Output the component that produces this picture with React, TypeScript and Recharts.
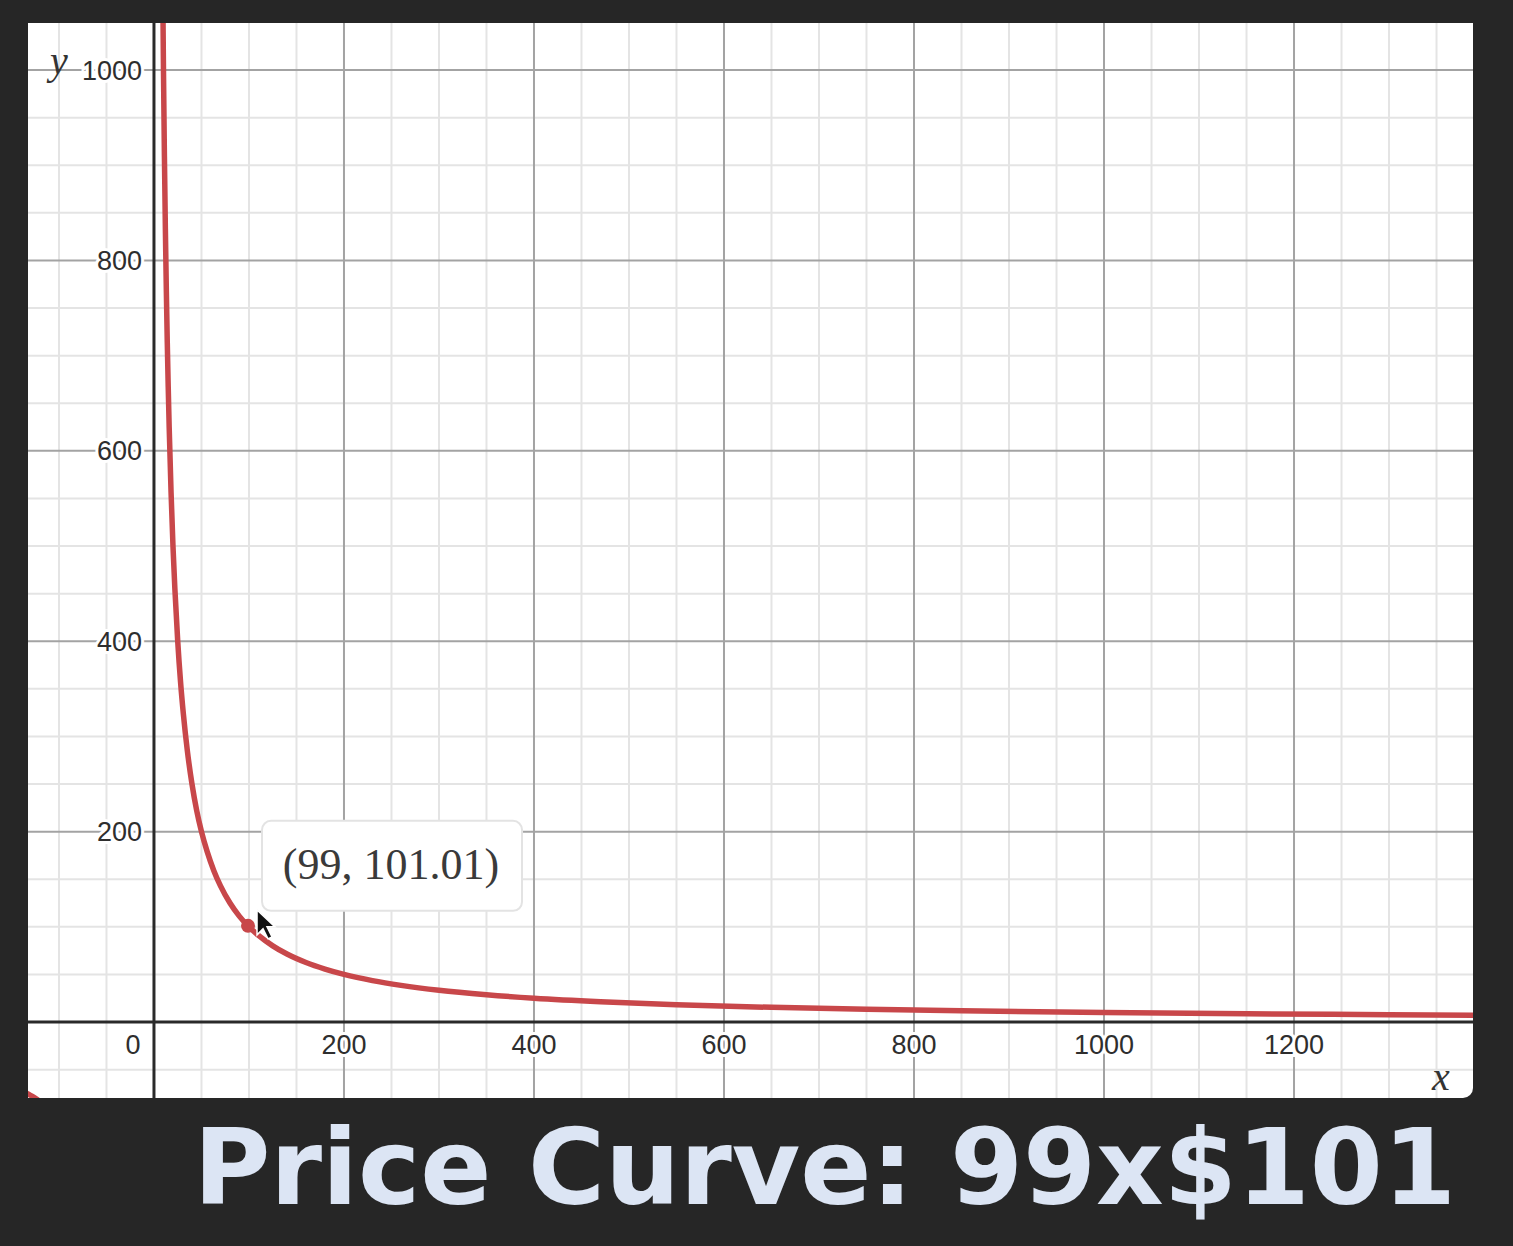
import { LineChart, Line, XAxis, YAxis, ReferenceLine, ReferenceDot } from "recharts";

// curve (positive branch)
const curveX = [9, 10, 11, 12, 13, 14, 15, 16, 18, 20, 22, 25, 28, 31, 35, 40, 45, 50, 56, 63, 70, 80, 90, 99, 110, 125, 140, 160, 180, 200, 230, 260, 300, 350, 400, 470, 550, 650, 750, 850, 1000, 1150, 1300, 1400];
const curveY = [1111, 1000, 909, 833, 769, 714, 667, 625, 556, 500, 455, 400, 357, 323, 286, 250, 222, 200, 179, 159, 143, 125, 111, 101.01, 91, 80, 71.4, 62.5, 55.6, 50, 43.5, 38.5, 33.3, 28.6, 25, 21.3, 18.2, 15.4, 13.3, 11.8, 10, 8.7, 7.7, 7.1];

// the bit of the negative branch showing in the bottom-left corner
const negX = [-140, -132.6, -128, -122];
const negY = [-71.4, -75.4, -78.1, -82];

const xLabels = [200, 400, 600, 800, 1000, 1200];
const yLabels = [200, 400, 600, 800, 1000];
const xMinor = [-100, -50, 50, 100, 150, 250, 300, 350, 450, 500, 550, 650, 700, 750, 850, 900, 950, 1050, 1100, 1150, 1250, 1300, 1350];
const yMinor = [-50, 50, 100, 150, 250, 300, 350, 450, 500, 550, 650, 700, 750, 850, 900, 950];

const hoverPoint = { x: 99, y: 101.01, label: "(99, 101.01)" };

const mainData = curveX.map((x, i) => ({ x, y: curveY[i] }));
const negData = negX.map((x, i) => ({ x, y: negY[i] }));

const RED = "#c8474a";
const TICK = "#2e2e2e";

const XTickLabel = ({ viewBox, value, shift = 0 }: any) => (
  <text
    x={viewBox.x + shift}
    y={viewBox.y + 32}
    textAnchor="middle"
    fontFamily="Liberation Sans, Arial, sans-serif"
    fontSize={27}
    fill={TICK}
    stroke="#fff"
    strokeWidth={6}
    style={{ paintOrder: "stroke" }}
  >
    {value}
  </text>
);

const YTickLabel = ({ viewBox, value }: any) => (
  <text
    x={viewBox.x - 12}
    y={viewBox.y + 9.5}
    textAnchor="end"
    fontFamily="Liberation Sans, Arial, sans-serif"
    fontSize={27}
    fill={TICK}
    stroke="#fff"
    strokeWidth={6}
    style={{ paintOrder: "stroke" }}
  >
    {value}
  </text>
);

const HoverBox = ({ viewBox }: any) => {
  const cx = viewBox.x + viewBox.width / 2;
  const cy = viewBox.y + viewBox.height / 2;
  const bx = cx + 14;
  const by = cy - 105;
  const tx = cx + 9;
  const ty = cy - 16;
  return (
    <g>
      <rect x={bx} y={by} width={260} height={90} rx={9} fill="#fff" stroke="#e3e3e3" strokeWidth={2} />
      <text
        x={bx + 129}
        y={by + 58}
        textAnchor="middle"
        fontFamily="Liberation Serif, Times New Roman, serif"
        fontSize={44}
        fill="#3a3a3a"
      >
        {hoverPoint.label}
      </text>
      <path
        d={`M${tx},${ty} l0,25 l6,-6 l5,10 l4,-2 l-5,-10 l8,0 z`}
        fill="#111"
        stroke="#fff"
        strokeWidth={1.5}
      />
    </g>
  );
};

export default function App() {
  return (
    <div style={{ position: "absolute", left: 0, top: 0, width: 1513, height: 1246, background: "#262626" }}>
      <div
        style={{
          position: "absolute",
          left: 28,
          top: 23,
          width: 1445,
          height: 1075,
          background: "#fff",
          borderBottomRightRadius: 10,
          overflow: "hidden",
        }}
      >
        <LineChart width={1445} height={1075} margin={{ top: 0, right: 0, bottom: 0, left: 0 }}>
          <XAxis type="number" dataKey="x" domain={[-132.6, 1388.4]} allowDataOverflow hide />
          <YAxis type="number" dataKey="y" domain={[-79.8, 1049.4]} allowDataOverflow hide />
          {xMinor.map((v) => (
            <ReferenceLine key={"xm" + v} x={v} stroke="#e4e4e4" strokeWidth={2} />
          ))}
          {yMinor.map((v) => (
            <ReferenceLine key={"ym" + v} y={v} stroke="#e4e4e4" strokeWidth={2} />
          ))}
          {xLabels.map((v) => (
            <ReferenceLine key={"xM" + v} x={v} stroke="#a3a3a3" strokeWidth={2} />
          ))}
          {yLabels.map((v) => (
            <ReferenceLine key={"yM" + v} y={v} stroke="#a3a3a3" strokeWidth={2} />
          ))}
          <ReferenceLine x={0} stroke="#2a2a2a" strokeWidth={3} />
          <ReferenceLine y={0} stroke="#2a2a2a" strokeWidth={3} />
          {xLabels.map((v) => (
            <ReferenceDot key={"xl" + v} x={v} y={0} r={0} label={<XTickLabel value={v} />} />
          ))}
          <ReferenceDot x={0} y={0} r={0} label={<XTickLabel value={0} shift={-21} />} />
          {yLabels.map((v) => (
            <ReferenceDot key={"yl" + v} x={0} y={v} r={0} label={<YTickLabel value={v} />} />
          ))}
          <Line
            data={negData}
            dataKey="y"
            type="monotone"
            stroke={RED}
            strokeWidth={5.5}
            dot={false}
            isAnimationActive={false}
          />
          <Line
            data={mainData}
            dataKey="y"
            type="monotone"
            stroke={RED}
            strokeWidth={5.5}
            dot={false}
            isAnimationActive={false}
          />
          <ReferenceDot
            x={hoverPoint.x}
            y={hoverPoint.y}
            r={7}
            fill={RED}
            stroke="none"
            label={<HoverBox />}
          />
        </LineChart>
        <span
          style={{
            position: "absolute",
            left: 22,
            top: 18,
            fontFamily: "Liberation Serif, serif",
            fontStyle: "italic",
            fontSize: 40,
            color: "#333",
            lineHeight: 1,
          }}
        >
          y
        </span>
        <span
          style={{
            position: "absolute",
            left: 1404,
            top: 1034,
            fontFamily: "Liberation Serif, serif",
            fontStyle: "italic",
            fontSize: 40,
            color: "#333",
            lineHeight: 1,
          }}
        >
          x
        </span>
      </div>
      <div
        style={{
          position: "absolute",
          right: 57,
          top: 1116,
          fontFamily: "DejaVu Sans, sans-serif",
          fontWeight: "bold",
          fontSize: 105,
          lineHeight: 1,
          color: "#dce5f4",
          whiteSpace: "nowrap",
        }}
      >
        Price Curve: 99x$101
      </div>
    </div>
  );
}
